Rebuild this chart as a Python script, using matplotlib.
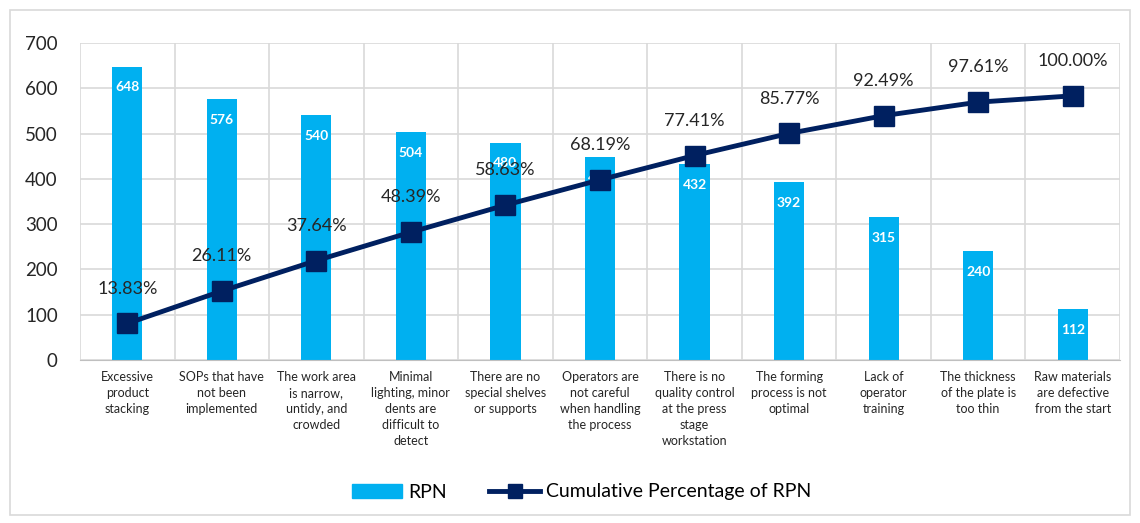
import matplotlib.pyplot as plt
import numpy as np
from matplotlib.patches import Rectangle, Patch
from matplotlib.lines import Line2D

categories = [
    "Excessive\nproduct\nstacking",
    "SOPs that have\nnot been\nimplemented",
    "The work area\nis narrow,\nuntidy, and\ncrowded",
    "Minimal\nlighting, minor\ndents are\ndifficult to\ndetect",
    "There are no\nspecial shelves\nor supports",
    "Operators are\nnot careful\nwhen handling\nthe process",
    "There is no\nquality control\nat the press\nstage\nworkstation",
    "The forming\nprocess is not\noptimal",
    "Lack of\noperator\ntraining",
    "The thickness\nof the plate is\ntoo thin",
    "Raw materials\nare defective\nfrom the start",
]
rpn = [648, 576, 540, 504, 480, 448, 432, 392, 315, 240, 112]
cum_pct = [13.83, 26.11, 37.64, 48.39, 58.63, 68.19, 77.41, 85.77, 92.49, 97.61, 100.00]

plt.rcParams['font.family'] = ['Lato', 'DejaVu Sans']

bar_color = '#00B0F0'
line_color = '#002060'
grid_color = '#D9D9D9'

fig = plt.figure(figsize=(11.4, 5.23), dpi=100)
ax = fig.add_axes([80/1140, 1-360/523, 1040/1140, 317/523])

x = np.arange(len(rpn))
ax.bar(x, rpn, width=0.32, color=bar_color, zorder=2)
for xi, v in zip(x, rpn):
    ax.annotate(str(v), (xi, v), xytext=(0, -15), textcoords='offset points',
                ha='center', va='center', color='white', fontsize=10,
                fontweight='bold', zorder=3)

ax.set_xlim(-0.5, len(rpn)-0.5)
ax.set_ylim(0, 700)
ax.set_yticks(range(0, 701, 100))
ax.set_xticks(x)
ax.set_xticklabels(categories, fontsize=9, color='#262626', linespacing=1.4)
ax.set_xticks(np.arange(-0.5, len(rpn), 1), minor=True)
ax.tick_params(axis='y', labelsize=13.5, colors='#262626', length=0, pad=16)
ax.tick_params(axis='x', which='both', length=0, pad=8)
ax.grid(axis='y', color=grid_color, lw=1.2, zorder=0)
ax.grid(axis='x', which='minor', color=grid_color, lw=1.2, zorder=0)
for s in ax.spines.values():
    s.set_visible(False)
ax.spines['bottom'].set_visible(True)
ax.spines['bottom'].set_color('#BFBFBF')

ax2 = ax.twinx()
ax2.set_ylim(0, 120)
ax2.plot(x, cum_pct, color=line_color, lw=3.5, marker='s', markersize=15, zorder=4)
for xi, p in zip(x, cum_pct):
    ax2.annotate(f"{p:.2f}%", (xi, p), xytext=(0, 25), textcoords='offset points',
                 ha='center', va='center', fontsize=13, color='#262626')
ax2.set_yticks([])
for s in ax2.spines.values():
    s.set_visible(False)

# legend
handles = [Patch(color=bar_color, label='RPN'),
           Line2D([], [], color=line_color, lw=3.5, marker='s', markersize=10,
                  label='Cumulative Percentage of RPN')]
fig.legend(handles=handles, loc='center', bbox_to_anchor=(0.51, 1-492/523),
           ncol=2, frameon=False, fontsize=14, handlelength=2.6,
           columnspacing=2.2, handletextpad=0.3)

fig.patches.append(Rectangle((10/1140, 1-515/523), 1120/1140, 505/523,
                             transform=fig.transFigure, fill=False,
                             edgecolor='#D9D9D9', lw=1.2))

fig.savefig('out.png', dpi=100)
